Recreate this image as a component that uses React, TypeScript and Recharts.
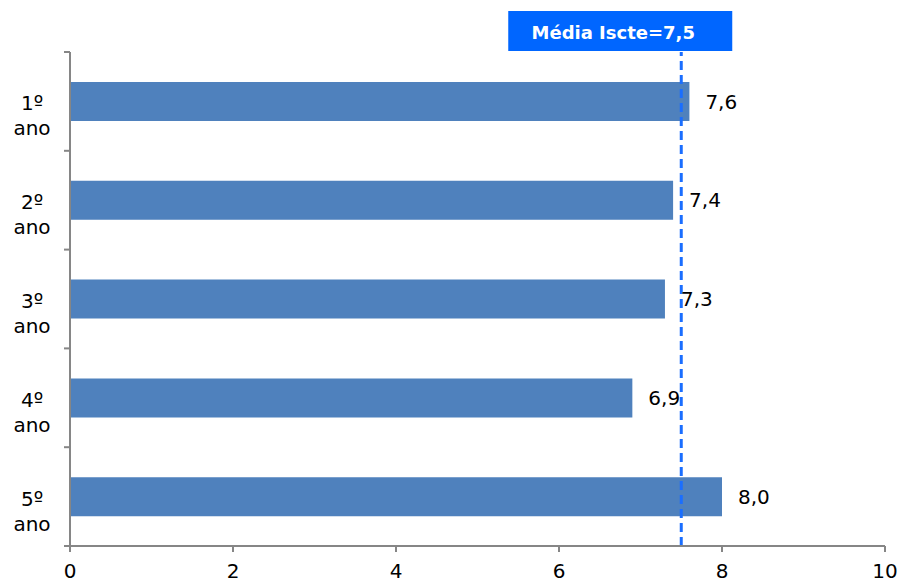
import React from 'react';
import { BarChart, Bar, XAxis, YAxis, ReferenceLine, LabelList } from 'recharts';

const categories = ['1º ano', '2º ano', '3º ano', '4º ano', '5º ano'];
const values = [7.6, 7.4, 7.3, 6.9, 8.0];
const xTicks = [0, 2, 4, 6, 8, 10];
const meanValue = 7.5;
const meanLabel = 'Média Iscte=7,5';

const data = categories.map((c, i) => ({ name: c, value: values[i] }));

const FONT = '"DejaVu Sans", Verdana, sans-serif';
const AXIS = '#868686';
const BLUE = '#0066FF';

const fmt = (v: any) => Number(v).toFixed(1).replace('.', ',');

const CatTick = (props: any) => {
  const { x, y, payload, index, visibleTicksCount } = props;
  const parts = String(payload.value).split(' ');
  const half = typeof payload.offset === 'number' ? payload.offset : 0;
  const isLast = index === (visibleTicksCount ?? categories.length) - 1;
  return (
    <g>
      {half > 0 && <line x1={x} x2={x - 6} y1={y - half} y2={y - half} stroke={AXIS} strokeWidth={2} />}
      {half > 0 && isLast && <line x1={x} x2={x - 6} y1={y + half} y2={y + half} stroke={AXIS} strokeWidth={2} />}
      <text x={x - 38} y={y + 9} textAnchor="middle" fontSize={20} fontFamily={FONT} fill="#000">{parts[0]}</text>
      <text x={x - 38} y={y + 34} textAnchor="middle" fontSize={20} fontFamily={FONT} fill="#000">{parts[1]}</text>
    </g>
  );
};

const MeanLabel = (props: any) => {
  const vb = props.viewBox || {};
  const x = vb.x;
  const y = vb.y;
  return (
    <g>
      <rect x={x - 173} y={y - 41} width={224} height={40} fill={BLUE} />
      <text x={x - 68} y={y - 13} textAnchor="middle" fontSize={18} fontWeight="bold" fontFamily={FONT} fill="#fff">{meanLabel}</text>
    </g>
  );
};

export default function App() {
  return (
    <div style={{ position: 'absolute', left: 0, top: 0, width: 899, height: 583, background: '#fff' }}>
      <BarChart
        width={899}
        height={583}
        data={data}
        layout="vertical"
        margin={{ top: 52, right: 14, bottom: 0, left: 0 }}
      >
        <XAxis
          type="number"
          domain={[0, 10]}
          ticks={xTicks}
          height={37}
          tickSize={6}
          tickMargin={12}
          stroke={AXIS}
          strokeWidth={2}
          tick={{ fill: '#000', fontSize: 20, fontFamily: FONT }}
          interval={0}
        />
        <YAxis
          type="category"
          dataKey="name"
          width={70}
          stroke={AXIS}
          strokeWidth={2}
          axisLine={true}
          tickLine={false}
          tickSize={0}
          tickMargin={0}
          tick={<CatTick />}
          interval={0}
        />
        <Bar dataKey="value" fill="#4F81BD" barSize={39} isAnimationActive={false}>
          <LabelList dataKey="value" position="right" offset={16} formatter={fmt} fill="#000" fontSize={20} fontFamily={FONT} />
        </Bar>
        <ReferenceLine
          x={meanValue}
          stroke="#1A6EFF"
          strokeWidth={3}
          strokeDasharray="9 5"
          label={<MeanLabel />}
          ifOverflow="visible"
        />
      </BarChart>
    </div>
  );
}
